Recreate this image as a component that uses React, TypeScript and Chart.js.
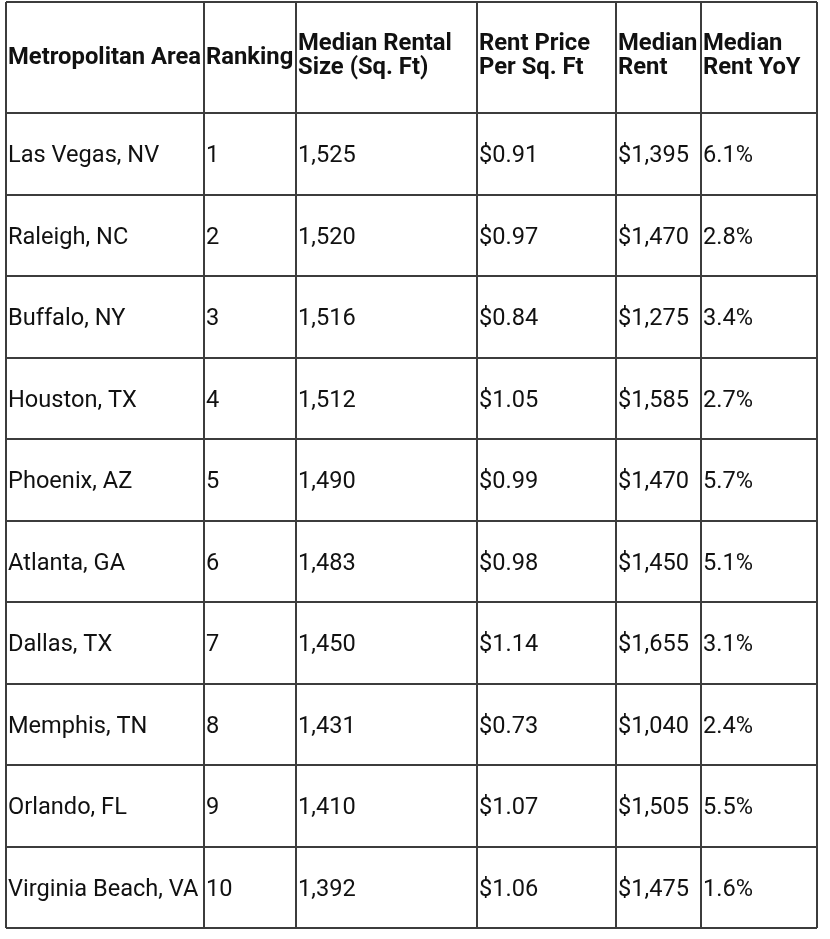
import React, { useEffect, useRef } from "react";
import { Chart, registerables } from "chart.js";

Chart.register(...registerables);

// ---- data ----
const headers: string[][] = [
  ["Metropolitan Area"],
  ["Ranking"],
  ["Median Rental", "Size (Sq. Ft)"],
  ["Rent Price", "Per Sq. Ft"],
  ["Median", "Rent"],
  ["Median", "Rent YoY"],
];
const metroAreas = [
  "Las Vegas, NV",
  "Raleigh, NC",
  "Buffalo, NY",
  "Houston, TX",
  "Phoenix, AZ",
  "Atlanta, GA",
  "Dallas, TX",
  "Memphis, TN",
  "Orlando, FL",
  "Virginia Beach, VA",
];
const rankings = [1, 2, 3, 4, 5, 6, 7, 8, 9, 10];
const medianSizes = [1525, 1520, 1516, 1512, 1490, 1483, 1450, 1431, 1410, 1392];
const pricePerSqFt = [0.91, 0.97, 0.84, 1.05, 0.99, 0.98, 1.14, 0.73, 1.07, 1.06];
const medianRents = [1395, 1470, 1275, 1585, 1470, 1450, 1655, 1040, 1505, 1475];
const rentYoY = [6.1, 2.8, 3.4, 2.7, 5.7, 5.1, 3.1, 2.4, 5.5, 1.6];

// ---- layout (table grid in canvas units) ----
const W = 830;
const H = 939;
const colEdges = [6, 204, 296, 477, 616, 701, 817];
const headerTop = 2;
const headerHeight = 111;
const rowHeight = 81.5;
const rowEdges = [
  headerTop,
  ...metroAreas.map((_, i) => headerTop + headerHeight + rowHeight * i),
  headerTop + headerHeight + rowHeight * metroAreas.length,
];
const cellPad = 2;
const fontFamily = "Roboto, 'Noto Sans', sans-serif";
const bodySize = 23.6;
const headerSize = 23.8;

const fmtInt = (v: number) => v.toLocaleString("en-US");
const columnsText: string[][] = [
  metroAreas,
  rankings.map(String),
  medianSizes.map(fmtInt),
  pricePerSqFt.map((v) => "$" + v.toFixed(2)),
  medianRents.map((v) => "$" + fmtInt(v)),
  rentYoY.map((v) => v.toFixed(1) + "%"),
];

const tableTextPlugin = {
  id: "tableText",
  afterDatasetsDraw(chart: any) {
    const ctx: CanvasRenderingContext2D = chart.ctx;
    ctx.save();
    ctx.fillStyle = "#111";
    ctx.textAlign = "left";
    ctx.textBaseline = "alphabetic";
    chart.data.datasets.forEach((ds: any, di: number) => {
      const meta = chart.getDatasetMeta(di);
      const size = ds.bold ? headerSize : bodySize;
      ctx.font = `${ds.bold ? "bold " : ""}${size}px ${fontFamily}`;
      const cap = size * 0.711;
      meta.data.forEach((el: any, i: number) => {
        ctx.fillText(ds.texts[i], el.x, el.y + cap / 2);
      });
    });
    ctx.restore();
  },
};

export default function App() {
  const ref = useRef<HTMLCanvasElement | null>(null);
  useEffect(() => {
    if (!ref.current) return;
    const datasets: any[] = [];
    const headerCenter = headerTop + headerHeight / 2;
    headers.forEach((lines, c) => {
      const offs = lines.length === 1 ? [-1.5] : [-16, 8];
      datasets.push({
        bold: true,
        texts: lines,
        data: lines.map((_, li) => ({ x: colEdges[c] + cellPad, y: headerCenter + offs[li] })),
        pointRadius: 0,
        showLine: false,
        clip: false,
      });
    });
    columnsText.forEach((col, c) => {
      datasets.push({
        bold: false,
        texts: col,
        data: col.map((_, r) => ({ x: colEdges[c] + cellPad, y: (rowEdges[r + 1] + rowEdges[r + 2]) / 2 })),
        pointRadius: 0,
        showLine: false,
        clip: false,
      });
    });
    const gridOpts = { color: "#3c3c3c", lineWidth: 2, drawTicks: false };
    const chart = new Chart(ref.current, {
      type: "scatter",
      data: { datasets },
      options: {
        animation: false,
        responsive: true,
        maintainAspectRatio: false,
        events: [],
        layout: {
          padding: {
            left: colEdges[0],
            right: W - colEdges[colEdges.length - 1],
            top: rowEdges[0],
            bottom: H - rowEdges[rowEdges.length - 1],
          },
        },
        plugins: { legend: { display: false }, tooltip: { enabled: false } },
        scales: {
          x: {
            type: "linear",
            min: colEdges[0],
            max: colEdges[colEdges.length - 1],
            afterBuildTicks: (s: any) => {
              s.ticks = colEdges.map((v) => ({ value: v }));
            },
            ticks: { display: false },
            border: { display: false },
            grid: gridOpts,
          },
          y: {
            type: "linear",
            min: rowEdges[0],
            max: rowEdges[rowEdges.length - 1],
            reverse: true,
            afterBuildTicks: (s: any) => {
              s.ticks = rowEdges.map((v) => ({ value: v }));
            },
            ticks: { display: false },
            border: { display: false },
            grid: gridOpts,
          },
        },
      } as any,
      plugins: [tableTextPlugin],
    });
    return () => chart.destroy();
  }, []);
  return (
    <div style={{ position: "absolute", left: 0, top: 0, width: W, height: H, background: "#fff" }}>
      <canvas ref={ref} />
    </div>
  );
}
